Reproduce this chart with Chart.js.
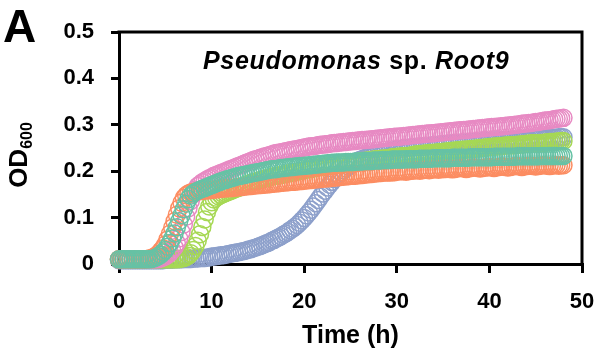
<!DOCTYPE html>
<html>
<head>
<meta charset="utf-8">
<script src="https://cdn.jsdelivr.net/npm/chart.js@4.4.1/dist/chart.umd.min.js"></script>
<style>
  html, body { margin: 0; padding: 0; background: #fff; }
  #wrap { position: relative; width: 598px; height: 351px; overflow: hidden; }
  #chart { position: absolute; left: 0; top: 0; }
  .lbl { position: absolute; font-family: "Liberation Sans", Arial, sans-serif; font-weight: bold; color: #000; white-space: nowrap; }
  #panel { left: 3px; top: 3px; font-size: 46px; line-height: 46px; }
  #title { left: 203px; top: 46px; font-size: 25px; line-height: 28px; letter-spacing: 0.7px; }
  #ytitle { left: 22px; top: 155px; font-size: 26px; line-height: 28px; transform: translate(-50%, -50%) rotate(-90deg); }
  #ytitle sub { font-size: 16px; vertical-align: -5px; }
</style>
</head>
<body>
<div id="wrap">
  <canvas id="chart" width="598" height="351"></canvas>
  <div class="lbl" id="panel">A</div>
  <div class="lbl" id="title"><i>Pseudomonas</i> sp. <i>Root9</i></div>
  <div class="lbl" id="ytitle">OD<sub>600</sub></div>
</div>
<script>
/* growth curves, OD600 read every 0.25 h */

var TIMES = [
  0, 0.25, 0.5, 0.75, 1, 1.25, 1.5, 1.75, 2, 2.25, 2.5, 2.75, 3, 3.25, 3.5, 3.75, 4, 4.25, 4.5, 4.75,
  5, 5.25, 5.5, 5.75, 6, 6.25, 6.5, 6.75, 7, 7.25, 7.5, 7.75, 8, 8.25, 8.5, 8.75, 9, 9.25, 9.5, 9.75,
  10, 10.25, 10.5, 10.75, 11, 11.25, 11.5, 11.75, 12, 12.25, 12.5, 12.75, 13, 13.25, 13.5, 13.75, 14, 14.25, 14.5, 14.75,
  15, 15.25, 15.5, 15.75, 16, 16.25, 16.5, 16.75, 17, 17.25, 17.5, 17.75, 18, 18.25, 18.5, 18.75, 19, 19.25, 19.5, 19.75,
  20, 20.25, 20.5, 20.75, 21, 21.25, 21.5, 21.75, 22, 22.25, 22.5, 22.75, 23, 23.25, 23.5, 23.75, 24, 24.25, 24.5, 24.75,
  25, 25.25, 25.5, 25.75, 26, 26.25, 26.5, 26.75, 27, 27.25, 27.5, 27.75, 28, 28.25, 28.5, 28.75, 29, 29.25, 29.5, 29.75,
  30, 30.25, 30.5, 30.75, 31, 31.25, 31.5, 31.75, 32, 32.25, 32.5, 32.75, 33, 33.25, 33.5, 33.75, 34, 34.25, 34.5, 34.75,
  35, 35.25, 35.5, 35.75, 36, 36.25, 36.5, 36.75, 37, 37.25, 37.5, 37.75, 38, 38.25, 38.5, 38.75, 39, 39.25, 39.5, 39.75,
  40, 40.25, 40.5, 40.75, 41, 41.25, 41.5, 41.75, 42, 42.25, 42.5, 42.75, 43, 43.25, 43.5, 43.75, 44, 44.25, 44.5, 44.75,
  45, 45.25, 45.5, 45.75, 46, 46.25, 46.5, 46.75, 47, 47.25, 47.5, 47.75, 48
];

var GREEN = [
  0.010, 0.010, 0.010, 0.010, 0.010, 0.010, 0.010, 0.010, 0.010, 0.010, 0.010, 0.010, 0.010, 0.010, 0.011, 0.012, 0.014, 0.017, 0.020, 0.025,
  0.030, 0.037, 0.045, 0.055, 0.066, 0.079, 0.092, 0.105, 0.118, 0.130, 0.140, 0.147, 0.152, 0.155, 0.158, 0.160, 0.162, 0.164, 0.166, 0.168,
  0.170, 0.172, 0.174, 0.176, 0.178, 0.180, 0.181, 0.183, 0.184, 0.186, 0.187, 0.189, 0.190, 0.191, 0.192, 0.193, 0.194, 0.195, 0.196, 0.197,
  0.198, 0.199, 0.200, 0.201, 0.202, 0.203, 0.204, 0.204, 0.205, 0.206, 0.207, 0.207, 0.208, 0.208, 0.209, 0.209, 0.210, 0.210, 0.211, 0.211,
  0.212, 0.212, 0.213, 0.213, 0.214, 0.214, 0.215, 0.215, 0.216, 0.216, 0.217, 0.217, 0.218, 0.218, 0.219, 0.219, 0.219, 0.219, 0.220, 0.220,
  0.220, 0.220, 0.221, 0.221, 0.221, 0.221, 0.222, 0.222, 0.222, 0.222, 0.223, 0.223, 0.223, 0.223, 0.224, 0.224, 0.224, 0.224, 0.225, 0.225,
  0.225, 0.225, 0.225, 0.225, 0.226, 0.226, 0.226, 0.226, 0.226, 0.226, 0.227, 0.227, 0.227, 0.227, 0.227, 0.227, 0.228, 0.228, 0.228, 0.228,
  0.228, 0.228, 0.228, 0.228, 0.229, 0.229, 0.229, 0.229, 0.229, 0.229, 0.229, 0.229, 0.230, 0.230, 0.230, 0.230, 0.230, 0.230, 0.230, 0.230,
  0.230, 0.230, 0.231, 0.231, 0.231, 0.231, 0.231, 0.231, 0.231, 0.231, 0.231, 0.231, 0.232, 0.232, 0.232, 0.232, 0.232, 0.232, 0.232, 0.232,
  0.232, 0.232, 0.233, 0.233, 0.233, 0.233, 0.233, 0.233, 0.233, 0.233, 0.233, 0.233, 0.233
];

var ORANGE = [
  0.010, 0.010, 0.010, 0.010, 0.010, 0.010, 0.010, 0.010, 0.010, 0.010, 0.010, 0.010, 0.011, 0.012, 0.013, 0.015, 0.018, 0.022, 0.028, 0.034,
  0.042, 0.053, 0.065, 0.078, 0.092, 0.106, 0.120, 0.132, 0.142, 0.148, 0.152, 0.154, 0.155, 0.156, 0.157, 0.157, 0.158, 0.158, 0.159, 0.159,
  0.160, 0.160, 0.161, 0.161, 0.162, 0.162, 0.163, 0.163, 0.164, 0.164, 0.165, 0.165, 0.166, 0.166, 0.167, 0.167, 0.168, 0.168, 0.169, 0.169,
  0.170, 0.170, 0.171, 0.171, 0.172, 0.172, 0.173, 0.173, 0.174, 0.174, 0.175, 0.175, 0.176, 0.176, 0.177, 0.177, 0.178, 0.178, 0.179, 0.179,
  0.180, 0.180, 0.181, 0.181, 0.182, 0.182, 0.183, 0.183, 0.184, 0.184, 0.185, 0.185, 0.186, 0.186, 0.187, 0.187, 0.188, 0.188, 0.189, 0.189,
  0.190, 0.190, 0.191, 0.191, 0.192, 0.192, 0.193, 0.193, 0.194, 0.194, 0.195, 0.195, 0.196, 0.196, 0.197, 0.197, 0.197, 0.197, 0.198, 0.198,
  0.199, 0.200, 0.200, 0.200, 0.199, 0.200, 0.201, 0.201, 0.202, 0.202, 0.201, 0.202, 0.203, 0.203, 0.202, 0.203, 0.204, 0.204, 0.203, 0.204,
  0.205, 0.205, 0.206, 0.205, 0.204, 0.205, 0.206, 0.207, 0.207, 0.206, 0.205, 0.206, 0.207, 0.208, 0.208, 0.207, 0.206, 0.207, 0.208, 0.208,
  0.209, 0.208, 0.207, 0.208, 0.209, 0.210, 0.210, 0.209, 0.208, 0.209, 0.210, 0.211, 0.211, 0.210, 0.209, 0.210, 0.211, 0.212, 0.212, 0.211,
  0.210, 0.211, 0.212, 0.213, 0.213, 0.212, 0.211, 0.212, 0.213, 0.213, 0.212, 0.213, 0.213
];

var PINK = [
  0.010, 0.010, 0.010, 0.010, 0.010, 0.010, 0.010, 0.010, 0.010, 0.010, 0.010, 0.010, 0.010, 0.010, 0.010, 0.010, 0.010, 0.011, 0.012, 0.014,
  0.016, 0.020, 0.024, 0.030, 0.036, 0.045, 0.055, 0.069, 0.085, 0.102, 0.120, 0.136, 0.150, 0.160, 0.168, 0.172, 0.176, 0.179, 0.182, 0.185,
  0.187, 0.190, 0.192, 0.194, 0.196, 0.198, 0.200, 0.202, 0.204, 0.206, 0.208, 0.210, 0.212, 0.214, 0.216, 0.218, 0.220, 0.222, 0.224, 0.226,
  0.227, 0.229, 0.230, 0.232, 0.233, 0.235, 0.236, 0.238, 0.239, 0.240, 0.241, 0.242, 0.243, 0.244, 0.245, 0.246, 0.247, 0.248, 0.249, 0.250,
  0.251, 0.252, 0.253, 0.254, 0.254, 0.255, 0.256, 0.257, 0.257, 0.258, 0.258, 0.259, 0.260, 0.261, 0.261, 0.262, 0.262, 0.263, 0.263, 0.264,
  0.264, 0.265, 0.265, 0.266, 0.266, 0.267, 0.267, 0.268, 0.268, 0.269, 0.269, 0.270, 0.270, 0.271, 0.271, 0.272, 0.272, 0.273, 0.273, 0.274,
  0.274, 0.275, 0.275, 0.276, 0.276, 0.277, 0.277, 0.278, 0.278, 0.279, 0.279, 0.280, 0.280, 0.281, 0.281, 0.282, 0.282, 0.283, 0.283, 0.284,
  0.284, 0.285, 0.285, 0.286, 0.286, 0.287, 0.287, 0.288, 0.288, 0.289, 0.289, 0.290, 0.290, 0.291, 0.291, 0.292, 0.292, 0.293, 0.293, 0.294,
  0.294, 0.295, 0.295, 0.296, 0.296, 0.297, 0.297, 0.298, 0.298, 0.299, 0.299, 0.300, 0.300, 0.301, 0.302, 0.303, 0.303, 0.304, 0.304, 0.305,
  0.306, 0.306, 0.307, 0.308, 0.309, 0.309, 0.310, 0.311, 0.312, 0.313, 0.313, 0.314, 0.315
];

var LIME = [
  0.010, 0.010, 0.010, 0.010, 0.010, 0.010, 0.010, 0.010, 0.010, 0.010, 0.010, 0.010, 0.010, 0.010, 0.010, 0.010, 0.010, 0.010, 0.010, 0.010,
  0.010, 0.010, 0.010, 0.010, 0.010, 0.010, 0.011, 0.012, 0.013, 0.015, 0.018, 0.023, 0.030, 0.039, 0.050, 0.064, 0.080, 0.096, 0.112, 0.124,
  0.133, 0.139, 0.143, 0.146, 0.149, 0.151, 0.153, 0.155, 0.157, 0.159, 0.161, 0.163, 0.165, 0.167, 0.169, 0.171, 0.173, 0.175, 0.176, 0.178,
  0.179, 0.181, 0.182, 0.184, 0.185, 0.187, 0.188, 0.189, 0.190, 0.191, 0.192, 0.193, 0.194, 0.195, 0.196, 0.197, 0.198, 0.199, 0.200, 0.201,
  0.202, 0.203, 0.204, 0.205, 0.206, 0.207, 0.208, 0.209, 0.209, 0.210, 0.211, 0.212, 0.212, 0.213, 0.214, 0.215, 0.215, 0.216, 0.217, 0.218,
  0.218, 0.219, 0.219, 0.220, 0.221, 0.222, 0.222, 0.223, 0.223, 0.224, 0.225, 0.226, 0.226, 0.227, 0.227, 0.228, 0.228, 0.229, 0.230, 0.230,
  0.231, 0.231, 0.232, 0.232, 0.233, 0.233, 0.234, 0.235, 0.236, 0.236, 0.237, 0.237, 0.238, 0.238, 0.239, 0.239, 0.240, 0.240, 0.241, 0.241,
  0.242, 0.242, 0.243, 0.243, 0.244, 0.244, 0.245, 0.245, 0.246, 0.246, 0.247, 0.247, 0.248, 0.248, 0.249, 0.249, 0.250, 0.250, 0.251, 0.251,
  0.252, 0.252, 0.253, 0.253, 0.254, 0.254, 0.255, 0.255, 0.256, 0.256, 0.256, 0.256, 0.257, 0.257, 0.258, 0.258, 0.259, 0.259, 0.260, 0.260,
  0.260, 0.260, 0.261, 0.261, 0.262, 0.262, 0.263, 0.263, 0.263, 0.264, 0.264, 0.265, 0.265
];

var BLUE = [
  0.008, 0.008, 0.008, 0.008, 0.008, 0.008, 0.008, 0.008, 0.008, 0.008, 0.008, 0.008, 0.008, 0.008, 0.008, 0.008, 0.008, 0.008, 0.008, 0.008,
  0.009, 0.009, 0.009, 0.009, 0.010, 0.010, 0.010, 0.010, 0.011, 0.011, 0.011, 0.011, 0.012, 0.012, 0.012, 0.013, 0.013, 0.013, 0.014, 0.014,
  0.016, 0.016, 0.017, 0.018, 0.019, 0.019, 0.020, 0.021, 0.022, 0.023, 0.024, 0.025, 0.026, 0.027, 0.028, 0.029, 0.031, 0.032, 0.034, 0.035,
  0.037, 0.039, 0.041, 0.043, 0.045, 0.047, 0.050, 0.052, 0.055, 0.057, 0.060, 0.063, 0.066, 0.069, 0.073, 0.076, 0.080, 0.084, 0.089, 0.094,
  0.099, 0.105, 0.111, 0.117, 0.124, 0.131, 0.138, 0.145, 0.152, 0.158, 0.165, 0.171, 0.177, 0.183, 0.188, 0.193, 0.198, 0.202, 0.206, 0.210,
  0.213, 0.216, 0.219, 0.222, 0.224, 0.226, 0.228, 0.230, 0.232, 0.234, 0.235, 0.237, 0.238, 0.239, 0.240, 0.241, 0.242, 0.243, 0.244, 0.245,
  0.246, 0.247, 0.248, 0.248, 0.249, 0.250, 0.251, 0.251, 0.252, 0.252, 0.253, 0.253, 0.254, 0.254, 0.255, 0.255, 0.256, 0.256, 0.257, 0.257,
  0.258, 0.258, 0.259, 0.259, 0.260, 0.260, 0.261, 0.261, 0.261, 0.261, 0.262, 0.262, 0.263, 0.263, 0.263, 0.263, 0.264, 0.264, 0.265, 0.265,
  0.265, 0.265, 0.266, 0.266, 0.266, 0.266, 0.267, 0.267, 0.267, 0.267, 0.268, 0.268, 0.268, 0.268, 0.269, 0.269, 0.269, 0.269, 0.270, 0.270,
  0.270, 0.270, 0.271, 0.271, 0.271, 0.271, 0.272, 0.272, 0.272, 0.272, 0.273, 0.273, 0.273
];

var X_TICKS = [0, 10, 20, 30, 40, 50];
var Y_TICKS = [0, 0.1, 0.2, 0.3, 0.4, 0.5];

// first dataset is drawn on top
var SERIES = [
  { name: 'green',  values: GREEN,  color: '#66C2A5' },
  { name: 'orange', values: ORANGE, color: '#FC8D62' },
  { name: 'pink',   values: PINK,   color: '#E78AC3' },
  { name: 'lime',   values: LIME,   color: '#A6D854' },
  { name: 'blue',   values: BLUE,   color: '#8DA0CB' }
];

function toPoints(vals) {
  return vals.map(function (v, i) { return { x: TIMES[i], y: v }; });
}

Chart.defaults.font.family = '"Liberation Sans", Arial, sans-serif';
Chart.defaults.color = '#000';

var frame = {
  id: 'frame',
  beforeDatasetsDraw: function (chart) {
    var a = chart.chartArea, ctx = chart.ctx;
    ctx.save();
    ctx.strokeStyle = '#000';
    ctx.lineWidth = 3;
    ctx.beginPath();
    ctx.moveTo(a.left - 1.5, a.top);
    ctx.lineTo(a.right, a.top);
    ctx.lineTo(a.right, a.bottom + 1.5);
    ctx.stroke();
    ctx.restore();
  }
};

var tickFont = { size: 22, weight: 'bold' };

new Chart(document.getElementById('chart'), {
  type: 'scatter',
  data: {
    datasets: SERIES.map(function (s) {
      return {
        label: s.name,
        data: toPoints(s.values),
        showLine: false,
        pointStyle: 'circle',
        pointRadius: 8.5,
        pointBorderWidth: 1.5,
        pointBorderColor: s.color,
        pointBackgroundColor: 'rgba(0,0,0,0)',
        borderColor: s.color,
        backgroundColor: 'rgba(0,0,0,0)',
        clip: false
      };
    })
  },
  options: {
    responsive: false,
    animation: false,
    events: [],
    devicePixelRatio: 1,
    layout: { padding: { top: 32, right: 16, bottom: 0, left: 0 } },
    plugins: { legend: { display: false }, tooltip: { enabled: false }, title: { display: false } },
    scales: {
      x: {
        type: 'linear',
        min: X_TICKS[0], max: X_TICKS[X_TICKS.length - 1],
        afterBuildTicks: function (s) { s.ticks = X_TICKS.map(function (v) { return { value: v }; }); },
        ticks: { font: tickFont, color: '#000', padding: 16, maxRotation: 0 },
        grid: { drawOnChartArea: false, drawTicks: true, tickLength: 9, color: '#000', lineWidth: 3 },
        border: { display: true, color: '#000', width: 3 },
        title: { display: true, text: 'Time (h)', color: '#000', font: { size: 25, weight: 'bold' }, padding: { top: 0, bottom: 0 } },
        afterFit: function (s) { s.height = 87; s.paddingLeft = 0; s.paddingRight = 0; }
      },
      y: {
        min: Y_TICKS[0], max: Y_TICKS[Y_TICKS.length - 1],
        afterBuildTicks: function (s) { s.ticks = Y_TICKS.map(function (v) { return { value: v }; }); },
        ticks: {
          font: tickFont, color: '#000', padding: 17,
          callback: function (v) { return v === 0 ? '0' : v.toFixed(1); }
        },
        grid: { drawOnChartArea: false, drawTicks: true, tickLength: 8, color: '#000', lineWidth: 3 },
        border: { display: true, color: '#000', width: 3 },
        afterFit: function (s) { s.width = 119; s.paddingTop = 0; s.paddingBottom = 0; }
      }
    }
  },
  plugins: [frame]
});
</script>
</body>
</html>
